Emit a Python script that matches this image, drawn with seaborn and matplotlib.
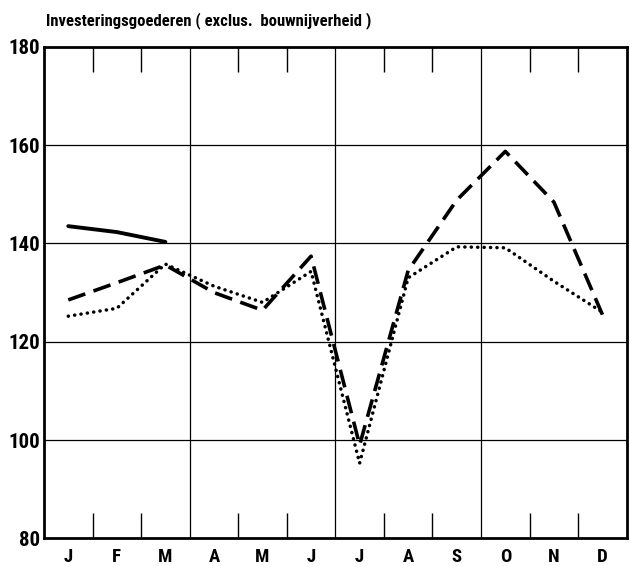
import numpy as np
import pandas as pd
import matplotlib
matplotlib.use("Agg")
import matplotlib.pyplot as plt
from matplotlib import font_manager
import seaborn as sns

months = ["J", "F", "M", "A", "M", "J", "J", "A", "S", "O", "N", "D"]
solid_vals = [143.5, 142.3, 140.3]
dashed_vals = [128.5, 132.0, 135.6, 130.0, 126.4, 137.4, 99.0, 134.5, 148.8, 158.7, 148.4, 125.5]
dotted_vals = [125.2, 126.8, 135.8, 131.3, 128.0, 134.3, 95.3, 133.0, 139.3, 139.1, 132.3, 126.0]
y_ticks = [80, 100, 120, 140, 160, 180]
title = "Investeringsgoederen ( exclus.  bouwnijverheid )"

sns.set_style("white")
available = {f.name for f in font_manager.fontManager.ttflist}
cands = ["Liberation Sans Narrow", "DejaVu Sans Condensed", "Roboto Condensed", "DejaVu Sans"]
fams = [c for c in cands if c in available] or ["DejaVu Sans"]
plt.rcParams["font.family"] = fams
plt.rcParams["text.color"] = "black"
plt.rcParams["xtick.color"] = "black"
plt.rcParams["ytick.color"] = "black"
narrow = fams[0] != "DejaVu Sans"

fig = plt.figure(figsize=(6.3, 5.66), dpi=100)
ax = fig.add_axes([0.0698, 0.0486, 0.925, 0.869])

x_all = np.arange(len(months))
df_dash = pd.DataFrame({"x": x_all, "y": dashed_vals})
df_dot = pd.DataFrame({"x": x_all, "y": dotted_vals})
df_solid = pd.DataFrame({"x": x_all[:len(solid_vals)], "y": solid_vals})

sns.lineplot(data=df_solid, x="x", y="y", ax=ax, color="black", lw=2.8,
             solid_capstyle="round")
sns.lineplot(data=df_dash, x="x", y="y", ax=ax, color="black", lw=2.6,
             linestyle=(0, (5.0, 2.4)))
sns.lineplot(data=df_dot, x="x", y="y", ax=ax, color="black", lw=2.5,
             linestyle=(0, (0.05, 1.8)), dash_capstyle="round")

ax.set_xlim(-0.5, len(months) - 0.5)
ax.set_ylim(y_ticks[0], y_ticks[-1])

for v in y_ticks[1:-1]:
    ax.axhline(v, color="black", lw=0.9, zorder=0)
for b in [2.5, 5.5, 8.5]:
    ax.axvline(b, color="black", lw=0.9, zorder=0)

ax.set_xticks(x_all)
ax.set_xticklabels(months)
minor = [b + 0.5 for b in range(len(months) - 1) if (b + 1) % 3 != 0]
ax.set_xticks(minor, minor=True)
ax.tick_params(axis="x", which="major", length=0, pad=7, labelsize=13.5 if narrow else 12)
ax.tick_params(axis="x", which="minor", direction="in", length=18, width=1.0,
               top=True, bottom=True, color="black")
for lab in ax.get_xticklabels():
    lab.set_fontweight("bold")

ax.set_yticks(y_ticks)
ax.set_yticklabels([str(v) for v in y_ticks])
ax.tick_params(axis="y", length=0, pad=3, labelsize=15 if narrow else 13)
for lab in ax.get_yticklabels():
    lab.set_fontweight("bold")

ax.set_xlabel("")
ax.set_ylabel("")
for s in ax.spines.values():
    s.set_visible(True)
    s.set_color("black")
    s.set_linewidth(2.0)

fig.text(0.073, 0.963, title, fontsize=12 if narrow else 10, fontweight="bold",
         ha="left", va="center")

fig.savefig("out.png", dpi=100, facecolor="white")
